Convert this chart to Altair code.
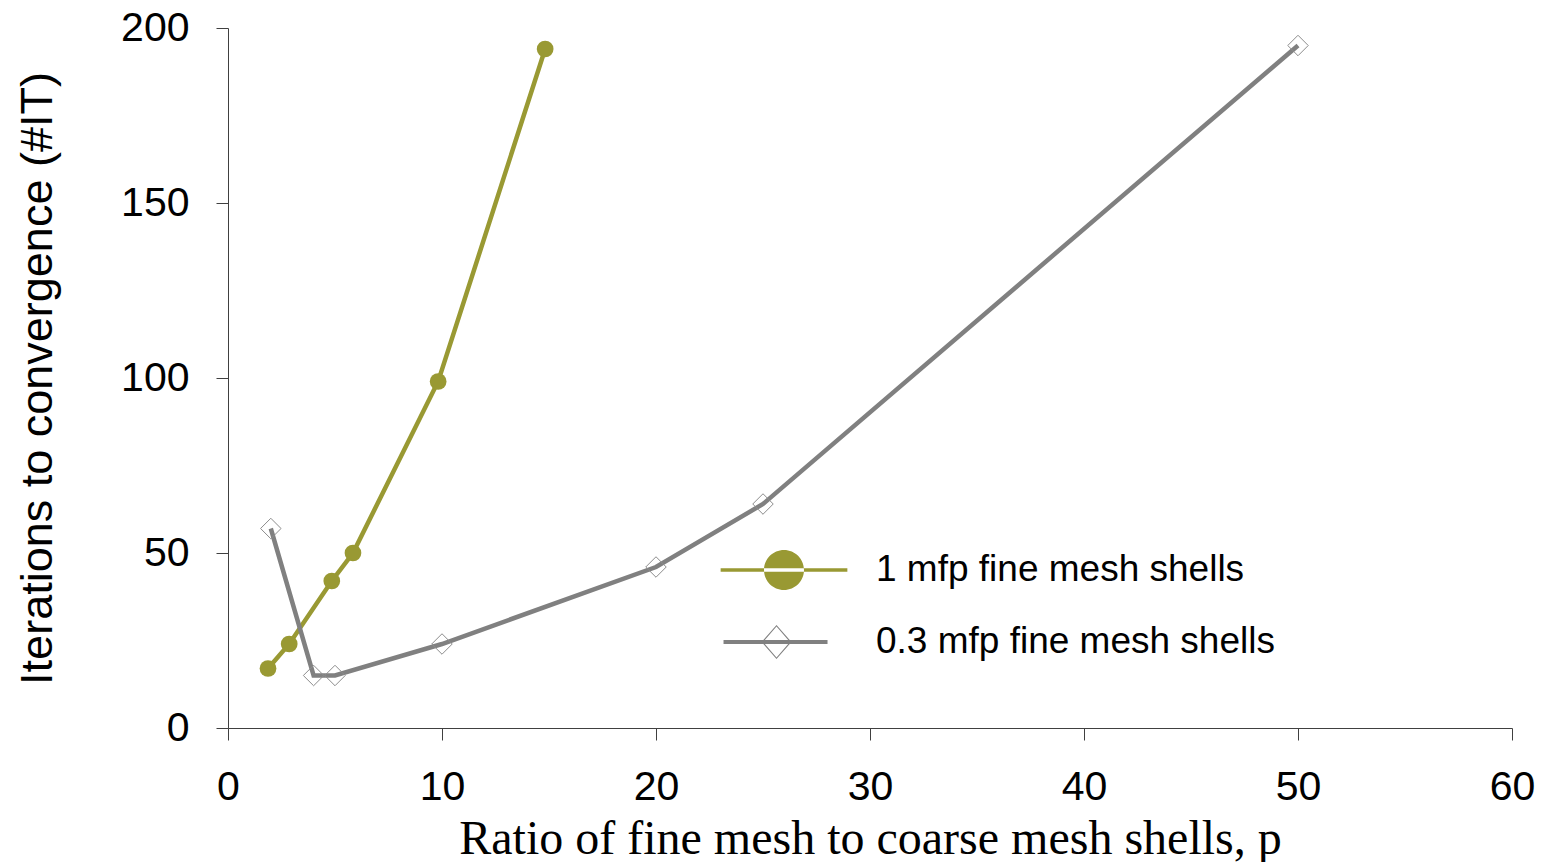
import altair as alt
import pandas as pd

# ---- data ----
series_names = ["1 mfp fine mesh shells", "0.3 mfp fine mesh shells"]

s1_x = [1.87, 2.86, 4.85, 5.84, 9.82, 14.82]
s1_y = [17, 24, 42, 50, 99, 194]

s2_x = [2, 4, 5, 10, 20, 25, 50]
s2_y = [57, 15, 15, 24, 46, 64, 195]

x_ticks = [0, 10, 20, 30, 40, 50, 60]
y_ticks = [0, 50, 100, 150, 200]

OLIVE = "#999933"
GRAY = "#808080"

rows = []
for i, (x, y) in enumerate(zip(s1_x, s1_y)):
    rows.append({"series": series_names[0], "p": x, "it": y, "order": i})
for i, (x, y) in enumerate(zip(s2_x, s2_y)):
    rows.append({"series": series_names[1], "p": x, "it": y, "order": i})
df = pd.DataFrame(rows)

x_enc = alt.X(
    "p:Q",
    scale=alt.Scale(domain=[0, 60], nice=False, zero=False),
    axis=alt.Axis(
        values=x_ticks,
        grid=False,
        title="Ratio of fine mesh to coarse mesh shells, p",
        titleFont="Liberation Serif",
        titleFontSize=48,
        titleFontWeight="normal",
        titleColor="black",
        titleX=642,
        titleY=125,
        titleBaseline="alphabetic",
        titleAlign="center",
        labelFont="Liberation Sans",
        labelFontSize=41,
        labelColor="black",
        labelPadding=27,
        tickSize=12,
        tickColor="#404040",
        domainColor="#404040",
        labelFlush=False,
    ),
)
y_enc = alt.Y(
    "it:Q",
    scale=alt.Scale(domain=[0, 200], nice=False, zero=False),
    axis=alt.Axis(
        values=y_ticks,
        grid=False,
        title="Iterations to convergence (#IT)",
        titleFont="Liberation Sans",
        titleFontSize=45,
        titleFontWeight="normal",
        titleColor="black",
        titleX=-177,
        titleY=350,
        titleAngle=270,
        titleBaseline="alphabetic",
        titleAlign="center",
        labelFont="Liberation Sans",
        labelFontSize=41,
        labelColor="black",
        labelPadding=27,
        tickSize=12,
        tickColor="#404040",
        domainColor="#404040",
        labelFlush=False,
    ),
)

base = alt.Chart(df)
s1_only = alt.datum.series == series_names[0]
s2_only = alt.datum.series == series_names[1]

olive_line = base.transform_filter(s1_only).mark_line(
    strokeWidth=4.5, color=OLIVE
).encode(x=x_enc, y=y_enc, order="order:Q")

gray_line = base.transform_filter(s2_only).mark_line(
    strokeWidth=4.5, color=GRAY
).encode(x="p:Q", y="it:Q", order="order:Q")

olive_pts = base.transform_filter(s1_only).mark_circle(
    size=280, opacity=1, color=OLIVE
).encode(x="p:Q", y="it:Q")

gray_pts = base.transform_filter(s2_only).mark_point(
    shape="diamond", size=420, filled=False, stroke="#8c8c8c",
    strokeWidth=1, opacity=1
).encode(x="p:Q", y="it:Q")

# legend symbol paths: line + marker (symbol box of 64 px, path reaching beyond it)
olive_sym = ("M-1.98,-0.056H1.98V0.056H-1.98Z "
             "M-0.625,0A0.625,0.625 0 1,0 0.625,0A0.625,0.625 0 1,0 -0.625,0Z")
gray_sym = ("M-1.89,-0.062H1.36V0.062H-1.89Z "
            "M-0.234,-0.532L0.234,0L-0.234,0.532L-0.702,0Z "
            "M-0.234,-0.482L-0.652,0L-0.234,0.482L0.184,0Z")

legend_layer = base.mark_point(filled=True, size=0, opacity=1).encode(
    x="p:Q",
    y="it:Q",
    color=alt.Color(
        "series:N",
        scale=alt.Scale(domain=series_names, range=[OLIVE, GRAY]),
        legend=alt.Legend(
            title=None,
            orient="none",
            legendX=524,
            legendY=510,
            padding=0,
            rowPadding=20,
            symbolSize=4096,
            symbolStrokeWidth=0,
            symbolOpacity=1,
            labelFont="Liberation Sans",
            labelFontSize=37,
            labelColor="black",
            labelOffset=60,
            labelLimit=600,
        ),
    ),
    shape=alt.Shape(
        "series:N",
        scale=alt.Scale(domain=series_names, range=[olive_sym, gray_sym]),
    ),
)

chart = (
    alt.layer(olive_line, gray_line, olive_pts, gray_pts, legend_layer)
    .properties(
        width=1284,
        height=700,
        padding={"left": 220, "top": 20, "right": 30, "bottom": 134},
        autosize=alt.AutoSizeParams(type="none"),
    )
    .configure_view(stroke=None)
    .configure_axis(domainWidth=1, tickWidth=1)
)

chart.save("out.html", embed_options={"renderer": "svg", "actions": False})
